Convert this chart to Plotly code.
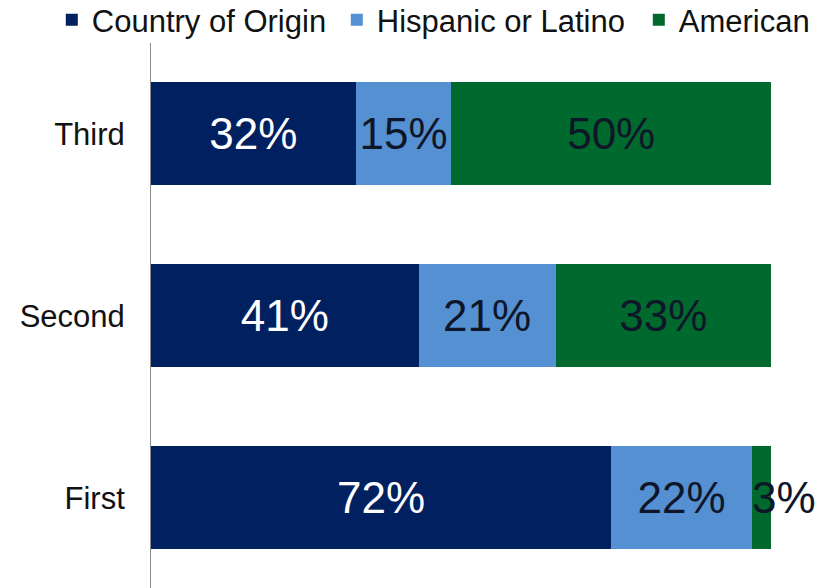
import plotly.graph_objects as go

# Generation labels (bottom to top) and share of each identity, in percent
generations = ["First", "Second", "Third"]
country_of_origin = [72, 41, 32]
hispanic_or_latino = [22, 21, 15]
american = [3, 33, 50]

series_names = ["Country of Origin", "Hispanic or Latino", "American"]
series_values = [country_of_origin, hispanic_or_latino, american]
series_colors = ["#002060", "#5590D3", "#006A2E"]
label_colors = ["#FFFFFF", "#0E1628", "#0E1628"]
legend_widths = [240, 257, None]

FONT = "Arial, 'Liberation Sans', sans-serif"

fig = go.Figure()
for name, vals, color, tcolor, lw in zip(series_names, series_values, series_colors,
                                         label_colors, legend_widths):
    # the thin First/American segment gets its label as an annotation instead
    positions = ["inside"] * len(vals)
    if name == "American":
        positions[0] = "none"
    fig.add_trace(go.Bar(
        y=generations,
        x=vals,
        name=name,
        orientation="h",
        marker=dict(color=color, line=dict(width=0)),
        text=vals,
        texttemplate="%{text}%",
        textposition=positions,
        insidetextanchor="middle",
        textangle=0,
        constraintext="none",
        insidetextfont=dict(family=FONT, size=44, color=tcolor),
        legendwidth=lw,
        hoverinfo="skip",
    ))

# label for the narrow American segment of the First generation, starting at its left edge
first_total = country_of_origin[0] + hispanic_or_latino[0] + american[0]
first_start = (country_of_origin[0] + hispanic_or_latino[0]) / first_total * 100
fig.add_annotation(
    x=first_start, y=generations[0], xref="x", yref="y",
    text=f"{american[0]}%", showarrow=False,
    xanchor="left", yanchor="middle", xshift=-2,
    font=dict(family=FONT, size=44, color="#0E1628"),
)

fig.update_layout(
    width=835, height=588,
    barmode="stack", barnorm="percent", bargap=0.434,
    paper_bgcolor="white", plot_bgcolor="white",
    margin=dict(l=151, r=64, t=43, b=0, autoexpand=False),
    font=dict(family=FONT, color="#111111"),
    showlegend=True,
    legend=dict(
        orientation="h", traceorder="normal",
        x=-0.16, xanchor="left", y=1.042, yanchor="middle",
        font=dict(family=FONT, size=31, color="#111111"),
        bgcolor="rgba(0,0,0,0)", borderwidth=0,
        itemclick=False, itemdoubleclick=False,
    ),
    xaxis=dict(range=[0, 100], visible=False, fixedrange=True),
    yaxis=dict(
        categoryorder="array", categoryarray=generations,
        range=[-0.495, 2.5],
        showline=True, linecolor="#8C8C8C", linewidth=1,
        showgrid=False, zeroline=False, ticks="",
        ticklabelstandoff=19,
        tickfont=dict(family=FONT, size=31, color="#111111"),
        fixedrange=True,
    ),
)

fig.write_html("out.html")
